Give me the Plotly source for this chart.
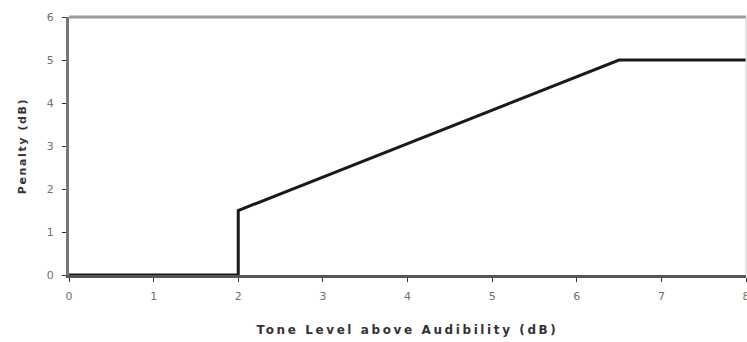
import plotly.graph_objects as go

tone_level = [0, 2, 2, 6.5, 8]
penalty = [0, 0, 1.5, 5, 5]
x_ticks = [0, 1, 2, 3, 4, 5, 6, 7, 8]
y_ticks = [0, 1, 2, 3, 4, 5, 6]

fig = go.Figure()
fig.add_trace(go.Scatter(x=tone_level, y=penalty, mode="lines",
                         line=dict(color="#1a1a1a", width=3), showlegend=False,
                         cliponaxis=False))

tickfont = dict(family="DejaVu Sans", size=11, color="#707070")
titlefont = dict(family="DejaVu Sans", size=12, color="#333333")

fig.update_layout(
    width=747, height=342,
    margin=dict(l=69, r=1, t=17, b=67, autoexpand=False),
    paper_bgcolor="white", plot_bgcolor="white",
    xaxis=dict(range=[0, 8], tickvals=x_ticks, ticktext=[str(v) for v in x_ticks],
               automargin=False,
               showgrid=False, zeroline=False, showline=True, linecolor="#555555", linewidth=3,
               ticks="outside", ticklen=4, tickwidth=1, tickcolor="#333333",
               tickfont=tickfont, ticklabelstandoff=5, ticklabeloverflow="allow",
               title=dict(text="<b>Tone Level above Audibility (dB)</b>", font=titlefont, standoff=24)),
    yaxis=dict(range=[0, 6], tickvals=y_ticks, ticktext=[str(v) for v in y_ticks],
               automargin=False,
               showgrid=False, zeroline=False, showline=True, linecolor="#777777", linewidth=3,
               ticks="outside", ticklen=4, tickwidth=1, tickcolor="#333333",
               tickfont=tickfont, ticklabelstandoff=6,
               title=dict(text="<b>Penalty (dB)</b>", font=dict(family="DejaVu Sans", size=11, color="#333333"), standoff=18)),
    shapes=[
        dict(type="line", xref="paper", yref="paper", x0=0, x1=1, y0=1, y1=1,
             line=dict(color="#9a9a9a", width=3)),
        dict(type="line", xref="paper", yref="paper", x0=1, x1=1, y0=0, y1=1,
             line=dict(color="#cccccc", width=1)),
    ],
)

post = (
    "document.body.style.margin='0';document.body.style.padding='0';"
    "var xt=document.querySelector('.xtitle');if(xt){xt.style.letterSpacing='2.6px';}"
    "var yt=document.querySelector('.ytitle');if(yt){yt.style.letterSpacing='1.6px';}"
)

fig.write_html("out.html", config={"displayModeBar": False}, post_script=post)
